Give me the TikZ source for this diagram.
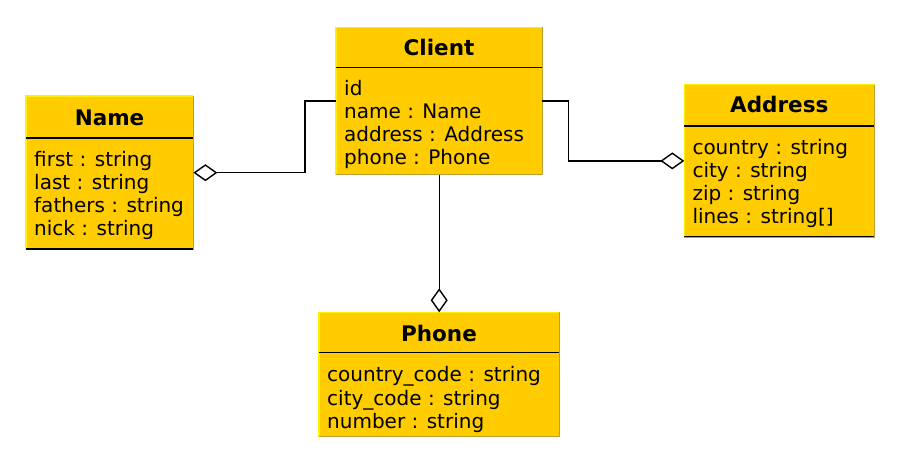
\documentclass[tikz,border=0pt]{standalone}
\usepackage{fontspec}
\setmainfont{DejaVu Sans}
\usetikzlibrary{arrows.meta}
\definecolor{boxfill}{HTML}{FFCC00}
\definecolor{boxlight}{HTML}{FFF000}
\definecolor{boxdark}{HTML}{C0A030}
\tikzset{
  umlbox/.style={draw=none, fill=boxfill, rectangle, inner sep=0pt, anchor=north west},
  txt/.style={inner sep=0pt, anchor=base west, font=\fontsize{20}{23.3}\selectfont},
  ttl/.style={inner sep=0pt, anchor=base, font=\fontsize{21.5}{24}\selectfont\bfseries},
  sepline/.style={line width=1.1pt, black},
  conn/.style={line width=1.4pt, black, -{Diamond[open, length=24pt, width=17pt, fill=white, line width=1.4pt]}},
}
\newcommand{\boxedges}[1]{%
  \draw[boxlight, line width=1.5pt] (#1.south west) -- (#1.north west) -- (#1.north east);
  \draw[boxdark, line width=1.5pt] (#1.north east) -- (#1.south east) -- (#1.south west);
}
\begin{document}
\begin{tikzpicture}[x=1pt, y=-1pt]
\useasboundingbox (0,0) rectangle (900,463);
% Name
\node[umlbox, minimum width=167pt, minimum height=153pt] (name) at (26,96) {};
\boxedges{name}
\draw[sepline] (26,138) -- (193,138);
\draw[sepline] (26,249) -- (193,249);
\node[ttl] (nameT) at (109.5,125) {Name};
\node[txt] (n1) at (34,166) {first : string};
\node[txt] (n2) at (34,189.3) {last : string};
\node[txt] (n3) at (34,212.6) {fathers : string};
\node[txt] (n4) at (34,235.9) {nick : string};
% Client
\node[umlbox, minimum width=206pt, minimum height=147pt] (client) at (336,27.3) {};
\boxedges{client}
\draw[sepline] (336,67.3) -- (542,67.3);
\node[ttl] (clientT) at (439,55) {Client};
\node[txt] (c1) at (344,95) {id};
\node[txt] (c2) at (344,118.3) {name : Name};
\node[txt] (c3) at (344,141.6) {address : Address};
\node[txt] (c4) at (344,164.9) {phone : Phone};
% Address
\node[umlbox, minimum width=190pt, minimum height=152pt] (address) at (684.3,84.7) {};
\boxedges{address}
\draw[sepline] (684.3,126) -- (874.3,126);
\draw[sepline] (684.3,236.7) -- (874.3,236.7);
\node[ttl] (addressT) at (779.3,112.7) {Address};
\node[txt] (a1) at (692.3,154) {country : string};
\node[txt] (a2) at (692.3,177.3) {city : string};
\node[txt] (a3) at (692.3,200.6) {zip : string};
\node[txt] (a4) at (692.3,223.9) {lines : string[]};
% Phone
\node[umlbox, minimum width=240pt, minimum height=124pt] (phone) at (319,312.3) {};
\boxedges{phone}
\draw[sepline] (319,352.7) -- (559,352.7);
\node[ttl] (phoneT) at (439,341) {Phone};
\node[txt] (p1) at (327,381.7) {country\_code : string};
\node[txt] (p2) at (327,405) {city\_code : string};
\node[txt] (p3) at (327,428.3) {number : string};
% connectors
\draw[conn] (client.west) -- ++(-31,0) |- (name.east);
\draw[conn] (client.east) -- ++(26,0) |- (address.west);
\draw[conn] (client.south) -- (phone.north);
\end{tikzpicture}
\end{document}
